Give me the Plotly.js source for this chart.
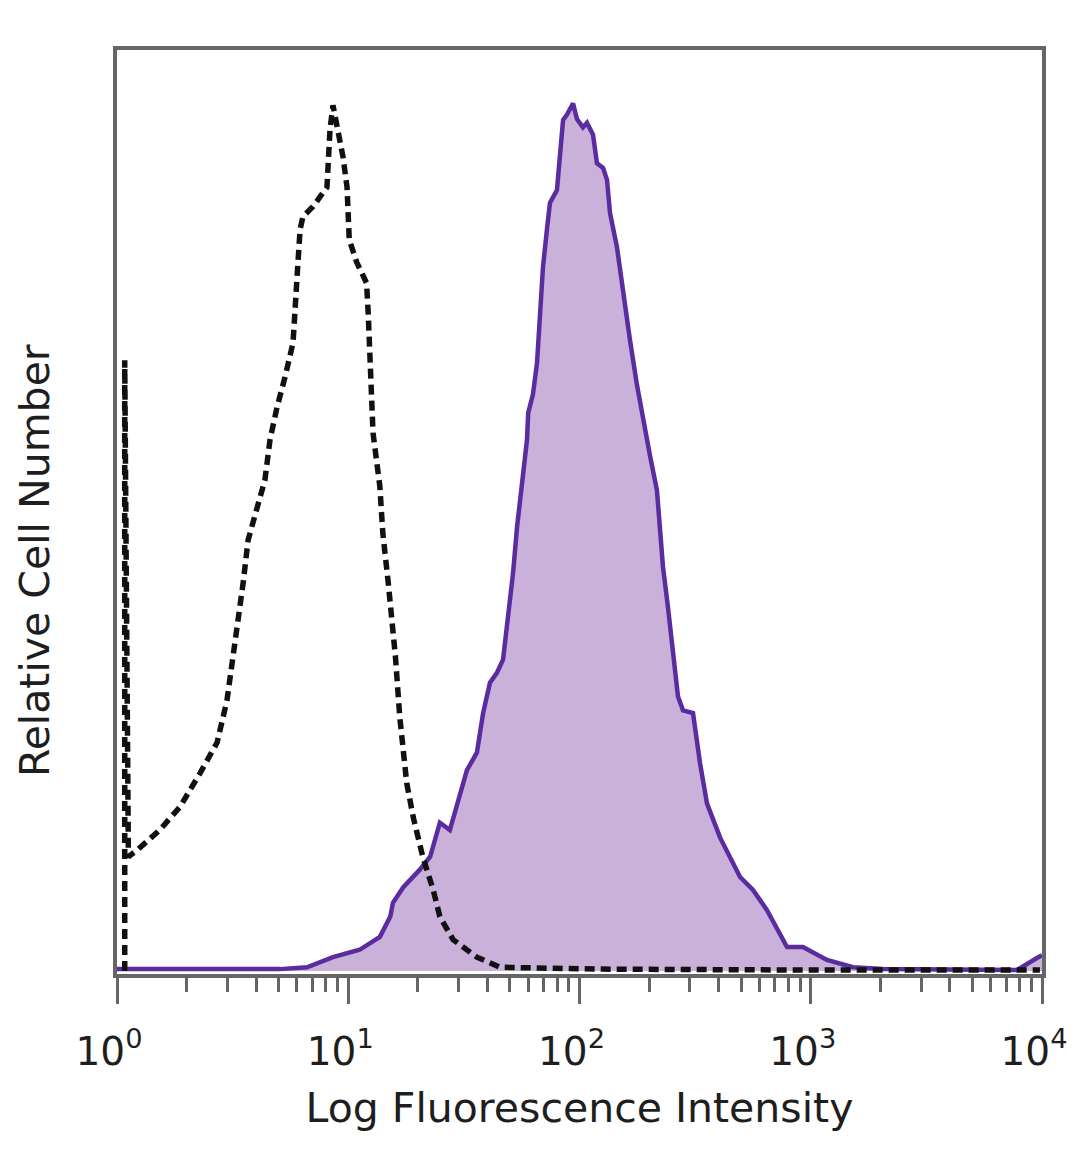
<!DOCTYPE html>
<html>
<head>
<meta charset="utf-8">
<script src="https://cdn.plot.ly/plotly-3.0.1.min.js"></script>
<style>html,body{margin:0;padding:0;background:#fff;}#chart{width:1080px;height:1169px;}</style>
</head>
<body>
<div id="chart"></div>
<script>
// Stained sample (filled purple histogram): fluorescence intensity vs relative cell number
const stainedX = [1, 2.29, 5.07, 6.63, 8.59, 11.2, 13.7, 15.2, 15.6, 17.3, 20.4, 22.6, 24.2, 24.9, 27.5, 30.4, 32.6, 36.0, 38.3, 41.0, 44.0, 46.7, 49.1, 51.6, 53.7, 56.4, 59.3, 60.0, 62.9, 65.5, 67.5, 69.5, 72.3, 74.5, 79.9, 82.4, 84.9, 88.3, 93.8, 97.5, 103.5, 107.7, 114.4, 119.0, 126.4, 131.5, 135.5, 145.2, 154.3, 165.3, 177.3, 192.0, 201.6, 216.2, 222.8, 229.6, 241.3, 253.6, 266.6, 280.3, 309.6, 331.9, 355.8, 405.1, 494.6, 562.7, 646.9, 789.4, 925.2, 1175, 1523, 2052, 4002, 7798, 9510, 10000];
const stainedY = [0.2, 0.2, 0.2, 0.4, 1.5, 2.3, 3.7, 5.9, 7.4, 9.1, 11.0, 12.4, 15.0, 16.1, 15.3, 18.9, 21.8, 23.7, 28.0, 31.3, 32.4, 33.8, 38.1, 43.2, 48.2, 53.0, 57.7, 60.6, 62.6, 66.0, 71.4, 76.4, 80.5, 83.4, 84.8, 89.5, 92.4, 93.0, 94.2, 92.5, 91.6, 92.1, 90.8, 87.7, 87.2, 85.9, 82.3, 78.6, 73.6, 68.5, 63.6, 58.7, 56.0, 52.2, 48.6, 43.9, 39.5, 34.5, 29.8, 28.3, 28.0, 22.6, 18.2, 14.5, 10.2, 8.8, 6.6, 2.6, 2.6, 1.2, 0.4, 0.2, 0.1, 0.1, 1.4, 1.7];

// Isotype control (dashed black histogram)
const controlX = [1.08, 1.08, 1.12, 1.22, 1.53, 1.87, 2.29, 2.71, 2.99, 3.17, 3.30, 3.51, 3.69, 4.03, 4.36, 4.59, 4.92, 5.33, 5.77, 6.06, 6.19, 6.37, 7.04, 8.09, 8.34, 8.59, 9.49, 9.88, 9.98, 10.1, 10.9, 12.0, 12.2, 12.4, 12.8, 13.7, 14.1, 14.9, 16.0, 16.7, 17.9, 19.1, 21.0, 23.3, 24.9, 28.4, 36.0, 45.3, 122.6, 899, 9795];
const controlY = [0, 66.3, 12.4, 13.1, 15.3, 17.8, 21.5, 24.8, 29.4, 34.1, 36.7, 42.1, 46.8, 50.1, 53.3, 57.7, 61.2, 64.5, 68.2, 76.9, 80.5, 81.9, 83.0, 85.1, 91.4, 94.0, 88.4, 85.1, 82.0, 79.4, 76.9, 74.7, 71.4, 65.6, 58.4, 52.6, 47.6, 42.1, 34.1, 27.6, 20.4, 16.7, 12.4, 8.8, 5.9, 3.4, 1.5, 0.4, 0.2, 0.1, 0.1];

// Axis ticks
const majorTickVals = [1, 10, 100, 1000, 10000];
const majorTickText = ['10<sup>0</sup>', '10<sup>1</sup>', '10<sup>2</sup>', '10<sup>3</sup>', '10<sup>4</sup>'];
const minorTickVals = [2,3,4,5,6,7,8,9,20,30,40,50,60,70,80,90,200,300,400,500,600,700,800,900,2000,3000,4000,5000,6000,7000,8000,9000];

const xTitle = 'Log Fluorescence Intensity';
const yTitle = 'Relative Cell Number';

const font = 'DejaVu Sans, Verdana, sans-serif';
const frameColor = '#666666';
const textColor = '#1e1e1e';

const traces = [
  {
    x: stainedX, y: stainedY, type: 'scatter', mode: 'lines',
    fill: 'tozeroy', fillcolor: '#c9b1d9',
    line: {color: '#5a2ca0', width: 4.5},
    hoverinfo: 'skip', showlegend: false
  },
  {
    x: controlX, y: controlY, type: 'scatter', mode: 'lines',
    line: {color: '#111111', width: 5.5, dash: '10px,6px'},
    hoverinfo: 'skip', showlegend: false
  }
];

const layout = {
  width: 1080, height: 1169,
  margin: {l: 117, r: 38, t: 50, b: 195},
  paper_bgcolor: '#ffffff', plot_bgcolor: '#ffffff',
  showlegend: false,
  font: {family: font, color: textColor},
  xaxis: {
    type: 'log', range: [0, 4],
    tickmode: 'array', tickvals: majorTickVals, ticktext: majorTickText,
    ticks: 'outside', ticklen: 26, tickwidth: 3, tickcolor: frameColor,
    tickfont: {family: font, size: 39, color: textColor},
    ticklabelshift: -8,
    ticklabelstandoff: 14,
    minor: {tickmode: 'array', tickvals: minorTickVals, ticks: 'outside', ticklen: 14, tickwidth: 3, tickcolor: frameColor, showgrid: false},
    showline: true, linecolor: frameColor, linewidth: 4, mirror: true,
    showgrid: false, zeroline: false,
    title: {text: xTitle, font: {family: font, size: 41, color: textColor}, standoff: 22}
  },
  yaxis: {
    range: [-0.33, 100],
    showticklabels: false, ticks: '',
    showline: true, linecolor: frameColor, linewidth: 4, mirror: true,
    showgrid: false, zeroline: false
  },
  annotations: [
    {
      text: yTitle, xref: 'paper', yref: 'paper', x: -0.0886, y: 0.447,
      xanchor: 'center', yanchor: 'middle', textangle: -90, showarrow: false,
      font: {family: font, size: 41, color: textColor}
    }
  ]
};

Plotly.newPlot('chart', traces, layout, {staticPlot: true, displayModeBar: false});
</script>
</body>
</html>
